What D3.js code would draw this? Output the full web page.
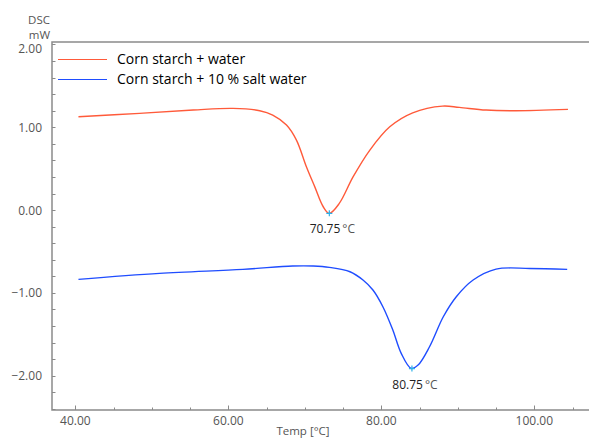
<!DOCTYPE html>
<html>
<head>
<meta charset="utf-8">
<script src="https://cdn.jsdelivr.net/npm/d3@7"></script>
<style>
  body { margin: 0; background: #fff; }
  svg { display: block; font-family: "Open Sans", "DejaVu Sans", sans-serif; }
</style>
</head>
<body>
<div id="chart"></div>
<script>
// temperature (deg C) / heat flow (mW)
const temps1 = [40.4, 48.4, 55.4, 60.6, 64.1, 65.8, 67.6, 68.9, 70.2, 71.3, 72.4, 73.2, 74.5, 76.3, 78.5, 81.1, 84.1, 88.0, 90.2, 93.7, 97.6, 104.4];
const dsc1   = [1.127, 1.168, 1.208, 1.228, 1.20, 1.147, 1.027, 0.845, 0.523, 0.28, 0.04, -0.04, 0.08, 0.40, 0.725, 1.006, 1.175, 1.256, 1.24, 1.208, 1.20, 1.216];

const temps2 = [40.4, 51.0, 61.9, 68.4, 71.1, 73.2, 75.9, 77.6, 78.9, 80.2, 81.5, 82.6, 83.9, 84.8, 86.3, 88.1, 89.8, 92.0, 95.0, 99.4, 104.3];
const dsc2   = [-0.837, -0.765, -0.716, -0.676, -0.676, -0.692, -0.745, -0.845, -0.966, -1.168, -1.449, -1.731, -1.912, -1.872, -1.651, -1.289, -1.047, -0.845, -0.713, -0.705, -0.716];

const seriesNames = ["Corn starch + water", "Corn starch + 10 % salt water"];
const peakTemps = [73.2, 84.0];
const peakValues = [-0.04, -1.915];
const peakLabels = ["70.75", "80.75"];

const xTicks = [40, 60, 80, 100];
const yTicks = [2, 1, 0, -1, -2];

const W = 589, H = 439;
const plotLeft = 52, plotTop = 42, plotRight = 600, plotBottom = 410;

const svg = d3.select("#chart").append("svg")
    .attr("width", W)
    .attr("height", H);

const x = d3.scaleLinear().domain([36.94, 107.15]).range([plotLeft, 589]);
const y = d3.scaleLinear().domain([-2.415, 2.03]).range([plotBottom, plotTop]);

const axisColor = "#8a8a8a";
const textColor = "#555";

// frame
svg.append("rect")
    .attr("x", plotLeft).attr("y", plotTop)
    .attr("width", plotRight - plotLeft).attr("height", plotBottom - plotTop)
    .attr("fill", "none")
    .attr("stroke", axisColor)
    .attr("stroke-width", 1.5);

// y axis ticks (inward)
const yMinor = d3.range(-2.4, 2.01, 0.2).map(v => +v.toFixed(2));
svg.append("g").selectAll("line")
    .data(yMinor)
    .join("line")
    .attr("x1", plotLeft).attr("x2", plotLeft + 3.5)
    .attr("y1", d => Math.round(y(d)) + 0.5).attr("y2", d => Math.round(y(d)) + 0.5)
    .attr("stroke", axisColor).attr("stroke-width", 1);

svg.append("g").selectAll("text")
    .data(yTicks)
    .join("text")
    .attr("x", 42)
    .attr("y", d => d === 2 ? y(d) + 9 : y(d) + 4.5)
    .attr("text-anchor", "end")
    .attr("font-size", 12)
    .attr("fill", textColor)
    .text(d => d3.format(".2f")(d));

// x axis ticks (inward)
const xMinor = d3.range(40, 106, 5);
svg.append("g").selectAll("line")
    .data(xMinor)
    .join("line")
    .attr("x1", d => Math.round(x(d)) + 0.5).attr("x2", d => Math.round(x(d)) + 0.5)
    .attr("y1", plotBottom).attr("y2", d => xTicks.includes(d) ? plotBottom - 4.5 : plotBottom - 2.5)
    .attr("stroke", axisColor).attr("stroke-width", 1);

svg.append("g").selectAll("text")
    .data(xTicks)
    .join("text")
    .attr("x", d => x(d))
    .attr("y", 425)
    .attr("text-anchor", "middle")
    .attr("font-size", 12)
    .attr("fill", textColor)
    .text(d => d3.format(".2f")(d));

// axis titles
svg.append("text").attr("x", 50).attr("y", 24).attr("text-anchor", "end")
    .attr("font-size", 11.5).attr("fill", textColor).text("DSC");
svg.append("text").attr("x", 50).attr("y", 39).attr("text-anchor", "end")
    .attr("font-size", 11.5).attr("fill", textColor).text("mW");
svg.append("text").attr("x", 303).attr("y", 435).attr("text-anchor", "middle")
    .attr("font-size", 11.5).attr("fill", textColor).text("Temp  [°C]");

// curves
const colors = ["#ff5a3a", "#1f4dff"];
const series = [
    temps1.map((t, i) => [t, dsc1[i]]),
    temps2.map((t, i) => [t, dsc2[i]])
];
const line = d3.line()
    .x(d => x(d[0]))
    .y(d => y(d[1]))
    .curve(d3.curveCatmullRom.alpha(0.5));

svg.append("g").selectAll("path")
    .data(series)
    .join("path")
    .attr("fill", "none")
    .attr("stroke", (d, i) => colors[i])
    .attr("stroke-width", 1.4)
    .attr("d", line);

// peak markers
const peaks = svg.append("g");
peakTemps.forEach((t, i) => {
    const px = x(t), py = y(peakValues[i]);
    peaks.append("path")
        .attr("d", `M${px - 3},${py}H${px + 3}M${px},${py - 3}V${py + 3}`)
        .attr("stroke", "#2bb0e8").attr("stroke-width", 1.2);
    const lbl = peaks.append("text")
        .attr("x", px + 3)
        .attr("y", py + 20)
        .attr("text-anchor", "middle")
        .attr("font-size", 12)
        .attr("fill", "#222");
    lbl.append("tspan").text(peakLabels[i]);
    lbl.append("tspan").attr("fill", "#555").attr("dx", 2).text("°C");
});

// legend
const legend = svg.append("g");
seriesNames.forEach((name, i) => {
    const ly = 59 + i * 20;
    legend.append("line")
        .attr("x1", 58).attr("x2", 107)
        .attr("y1", ly + 0.5).attr("y2", ly + 0.5)
        .attr("stroke", colors[i]).attr("stroke-width", 1.2);
    legend.append("text")
        .attr("x", 117).attr("y", ly + 5)
        .attr("font-size", 14)
        .attr("fill", "#000")
        .text(name);
});
</script>
</body>
</html>
